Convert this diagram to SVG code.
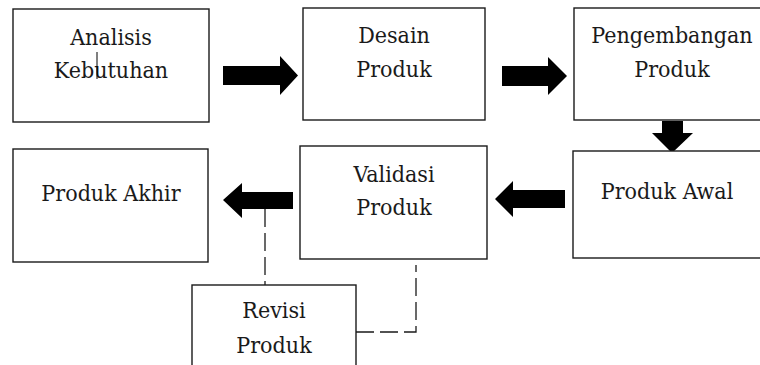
<svg xmlns="http://www.w3.org/2000/svg" width="760" height="365" viewBox="0 0 760 365">
<style>
.box{fill:#fff;stroke:#1a1a1a;stroke-width:1.4}
.lbl{font-family:'DejaVu Serif Condensed','DejaVu Serif',serif;font-stretch:condensed;font-size:23px;fill:#1a1a1a;text-anchor:middle}
.arr{fill:#000}
.dash{fill:none;stroke:#1a1a1a;stroke-width:1.3;stroke-dasharray:18 6}
</style>
<rect width="760" height="365" fill="#fff"/>
<g id="connectors">
<polygon class="arr" points="223,66 280,66 280,56 298,75.5 280,95 280,85 223,85"/>
<polygon class="arr" points="502,66 548,66 548,57 567,76 548,95 548,86 502,86"/>
<polygon class="arr" points="662,121 683,121 683,133 693,133 672,153 652,133 662,133"/>
<polygon class="arr" points="565,190 513,190 513,181 495,199 513,217 513,208 565,208"/>
<polygon class="arr" points="293,192 242,192 242,183 223,200 242,218 242,209 293,209"/>
<path class="dash" d="M265,209 V285"/>
<path class="dash" d="M356,332 H416 V265"/>
</g>
<g id="analisis">
<rect class="box" x="13" y="9" width="196" height="113"/>
<text class="lbl" x="111" y="45">Analisis</text>
<text class="lbl" x="111" y="78">Kebutuhan</text>
<line x1="97" y1="52" x2="97" y2="79" stroke="#000" stroke-width="1"/>
</g>
<g id="desain">
<rect class="box" x="303" y="8" width="182" height="112"/>
<text class="lbl" x="394" y="43">Desain</text>
<text class="lbl" x="394" y="77">Produk</text>
</g>
<g id="pengembangan">
<rect class="box" x="574" y="8" width="192" height="112"/>
<text class="lbl" x="672" y="43">Pengembangan</text>
<text class="lbl" x="672" y="77">Produk</text>
</g>
<g id="awal">
<rect class="box" x="573" y="151" width="193" height="107"/>
<text class="lbl" x="667" y="199">Produk Awal</text>
</g>
<g id="validasi">
<rect class="box" x="300" y="146" width="187" height="113"/>
<text class="lbl" x="394" y="182">Validasi</text>
<text class="lbl" x="394" y="215">Produk</text>
</g>
<g id="akhir">
<rect class="box" x="13" y="149" width="195" height="113"/>
<text class="lbl" x="111" y="201">Produk Akhir</text>
</g>
<g id="revisi">
<rect class="box" x="192" y="285" width="164" height="90"/>
<text class="lbl" x="274" y="318">Revisi</text>
<text class="lbl" x="274" y="353">Produk</text>
</g>
</svg>
